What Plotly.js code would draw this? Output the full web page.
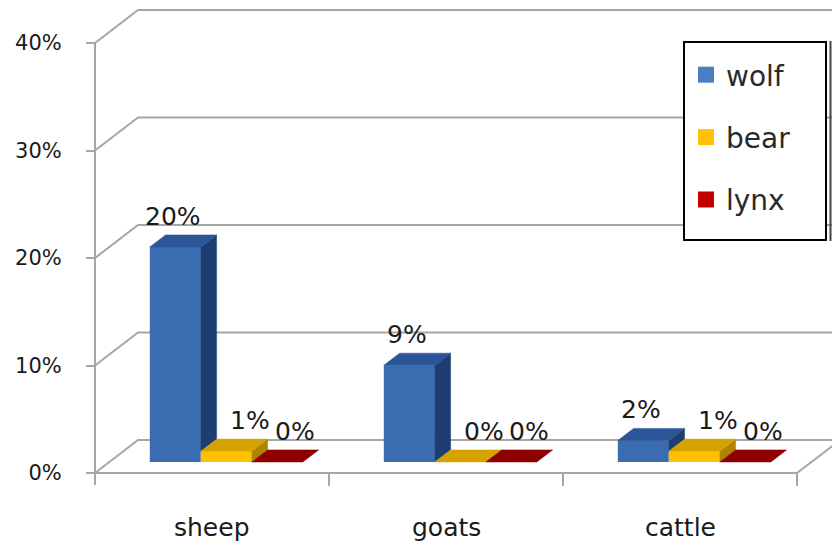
<!DOCTYPE html>
<html>
<head>
<meta charset="utf-8">
<script src="https://cdn.plot.ly/plotly-3.0.1.min.js"></script>
<style>
  html, body { margin: 0; padding: 0; background: #fff; }
  #chart { width: 832px; height: 545px; }
</style>
</head>
<body>
<div id="chart"></div>
<script>
// Share of livestock losses by predator
const categories = ['sheep', 'goats', 'cattle'];
const seriesNames = ['wolf', 'bear', 'lynx'];
const wolf = [0.20, 0.09, 0.02];
const bear = [0.01, 0.00, 0.01];
const lynx = [0.00, 0.00, 0.00];
const yTicks = [0, 0.1, 0.2, 0.3, 0.4];

const series = [wolf, bear, lynx];

// colours per series: front, top, side, legend key
const frontCol = ['#3A6CB2', '#FFC000', '#C00000'];
const topCol = ['#2A5699', '#D6A200', '#8E0000'];
const sideCol = ['#1E3E72', '#B08400', '#6E0000'];
const keyCol = ['#4A7EC0', '#FFC000', '#C00000'];

// page geometry (pixels)
const W = 832, H = 545, L = 80;
const axisPx = 95;      // pixel column of the value axis
const floorPx = 473;    // pixel row of 0%
const catPx = 234;      // pixels per category
const unitPx = 1075;    // pixels per 100%

const xRange = [-(axisPx - L) / catPx, (W - axisPx) / catPx];
const yRange = [-(H - floorPx) / unitPx, floorPx / unitPx];

// oblique depth of the floor, in axis units
const DX = 43 / catPx, DY = 33 / unitPx;
// bars sit between these fractions of the floor depth
const F0 = 0.333, F1 = 0.70;
const BW = 0.218; // bar width in category units

const textCol = '#1A1A1A';
const traces = [];

// front faces as bars
series.forEach((vals, s) => {
  traces.push({
    type: 'bar',
    name: seriesNames[s],
    x: categories.map((c, i) => i + 0.5 + (s - 1) * BW + F0 * DX),
    y: vals,
    base: F0 * DY,
    width: BW,
    marker: { color: frontCol[s], line: { width: 0 } },
    showlegend: false,
    hoverinfo: 'skip'
  });
});

// side and top faces
series.forEach((vals, s) => {
  const sx = [], sy = [], tx = [], ty = [];
  vals.forEach((v, i) => {
    const xl = i + 0.5 + (s - 1.5) * BW;
    const xr = xl + BW;
    const hn = s < series.length - 1 ? series[s + 1][i] : 0;
    if (v > hn) {
      sx.push(xr + F0 * DX, xr + F0 * DX, xr + F1 * DX, xr + F1 * DX, xr + F0 * DX, null);
      sy.push(F0 * DY + hn, F0 * DY + v, F1 * DY + v, F1 * DY + hn, F0 * DY + hn, null);
    }
    tx.push(xl + F0 * DX, xr + F0 * DX, xr + F1 * DX, xl + F1 * DX, xl + F0 * DX, null);
    ty.push(F0 * DY + v, F0 * DY + v, F1 * DY + v, F1 * DY + v, F0 * DY + v, null);
  });
  traces.push({
    type: 'scatter', mode: 'lines', x: sx, y: sy, fill: 'toself',
    fillcolor: sideCol[s], line: { color: sideCol[s], width: 0.5 },
    showlegend: false, hoverinfo: 'skip', cliponaxis: false
  });
  traces.push({
    type: 'scatter', mode: 'lines', x: tx, y: ty, fill: 'toself',
    fillcolor: topCol[s], line: { color: topCol[s], width: 0.5 },
    showlegend: false, hoverinfo: 'skip', cliponaxis: false
  });
});

// legend keys
seriesNames.forEach((n, s) => {
  traces.push({
    type: 'scatter', mode: 'markers', name: n, x: [null], y: [null],
    marker: { symbol: 'square', size: 18, color: keyCol[s] },
    legendgroup: n, showlegend: true, hoverinfo: 'skip'
  });
});

// walls and floor
const grid = { color: '#A6A6A6', width: 2 };
const shapes = [];
const xEnd = xRange[1] + 0.2;
yTicks.slice(1).forEach(v => {
  shapes.push({
    type: 'path', xref: 'x', yref: 'y', layer: 'below', line: grid,
    path: `M0,${v} L${DX},${v + DY} L${xEnd},${v + DY}`
  });
});
const nCat = categories.length;
shapes.push({
  type: 'path', xref: 'x', yref: 'y', layer: 'below', line: grid,
  path: `M0,0 L${DX},${DY} L${xEnd},${DY}`
});
shapes.push({
  type: 'path', xref: 'x', yref: 'y', layer: 'below', line: grid,
  path: `M0,0 L${nCat},0 L${nCat + DX},${DY}`
});
// value axis line
shapes.push({
  type: 'line', xref: 'x', yref: 'y', layer: 'below', line: grid,
  x0: 0, x1: 0, y0: -12 / unitPx, y1: yTicks[yTicks.length - 1]
});
// category boundary ticks
for (let k = 1; k <= nCat; k++) {
  shapes.push({
    type: 'line', xref: 'x', yref: 'y', layer: 'below', line: grid,
    x0: k, x1: k, y0: -13 / unitPx, y1: 0
  });
}
// legend frame
const px2x = p => (p - L) / (W - L);
const py2y = p => 1 - p / H;
shapes.push({
  type: 'rect', xref: 'paper', yref: 'paper', layer: 'above',
  x0: px2x(684), x1: px2x(826), y0: py2y(240), y1: py2y(42),
  fillcolor: '#FFFFFF', line: { color: '#000000', width: 2 }
});
shapes.push({
  type: 'line', xref: 'paper', yref: 'paper', layer: 'above',
  x0: px2x(830.5), x1: px2x(830.5), y0: py2y(241), y1: py2y(41),
  line: { color: '#444444', width: 2 }
});

// value labels and category names
const annotations = [];
const labelShift = [-2, 24, 18];
series.forEach((vals, s) => {
  vals.forEach((v, i) => {
    annotations.push({
      x: i + 0.5 + (s - 1) * BW + F0 * DX, y: F0 * DY + v,
      xref: 'x', yref: 'y', showarrow: false,
      text: Math.round(v * 100) + '%',
      xanchor: 'center', yanchor: 'middle',
      xshift: labelShift[s], yshift: 31,
      font: { family: 'DejaVu Sans', size: 25, color: textCol }
    });
  });
});
categories.forEach((c, i) => {
  annotations.push({
    x: i + 0.5, y: -54 / unitPx, xref: 'x', yref: 'y', showarrow: false,
    text: c, xanchor: 'center', yanchor: 'middle',
    font: { family: 'DejaVu Sans', size: 25, color: textCol }
  });
});

const layout = {
  width: W, height: H,
  margin: { l: L, r: 0, t: 0, b: 0 },
  paper_bgcolor: '#FFFFFF', plot_bgcolor: '#FFFFFF',
  barmode: 'overlay',
  showlegend: true,
  legend: {
    x: px2x(686), y: py2y(50), xanchor: 'left', yanchor: 'top',
    bgcolor: 'rgba(0,0,0,0)', borderwidth: 0,
    font: { family: 'DejaVu Sans', size: 28, color: '#2A2A2A' },
    tracegroupgap: 23, itemclick: false, itemdoubleclick: false
  },
  xaxis: { range: xRange, visible: false, fixedrange: true },
  yaxis: {
    range: yRange, anchor: 'free', position: (axisPx - L) / (W - L),
    tickvals: yTicks, tickformat: '.0%',
    ticks: 'outside', ticklen: 9, tickwidth: 2, tickcolor: '#A6A6A6',
    ticklabelstandoff: 20,
    showgrid: false, zeroline: false, showline: false, fixedrange: true,
    tickfont: { family: 'DejaVu Sans', size: 21, color: textCol }
  },
  shapes: shapes,
  annotations: annotations
};

Plotly.newPlot('chart', traces, layout, { staticPlot: true, displayModeBar: false });
</script>
</body>
</html>
